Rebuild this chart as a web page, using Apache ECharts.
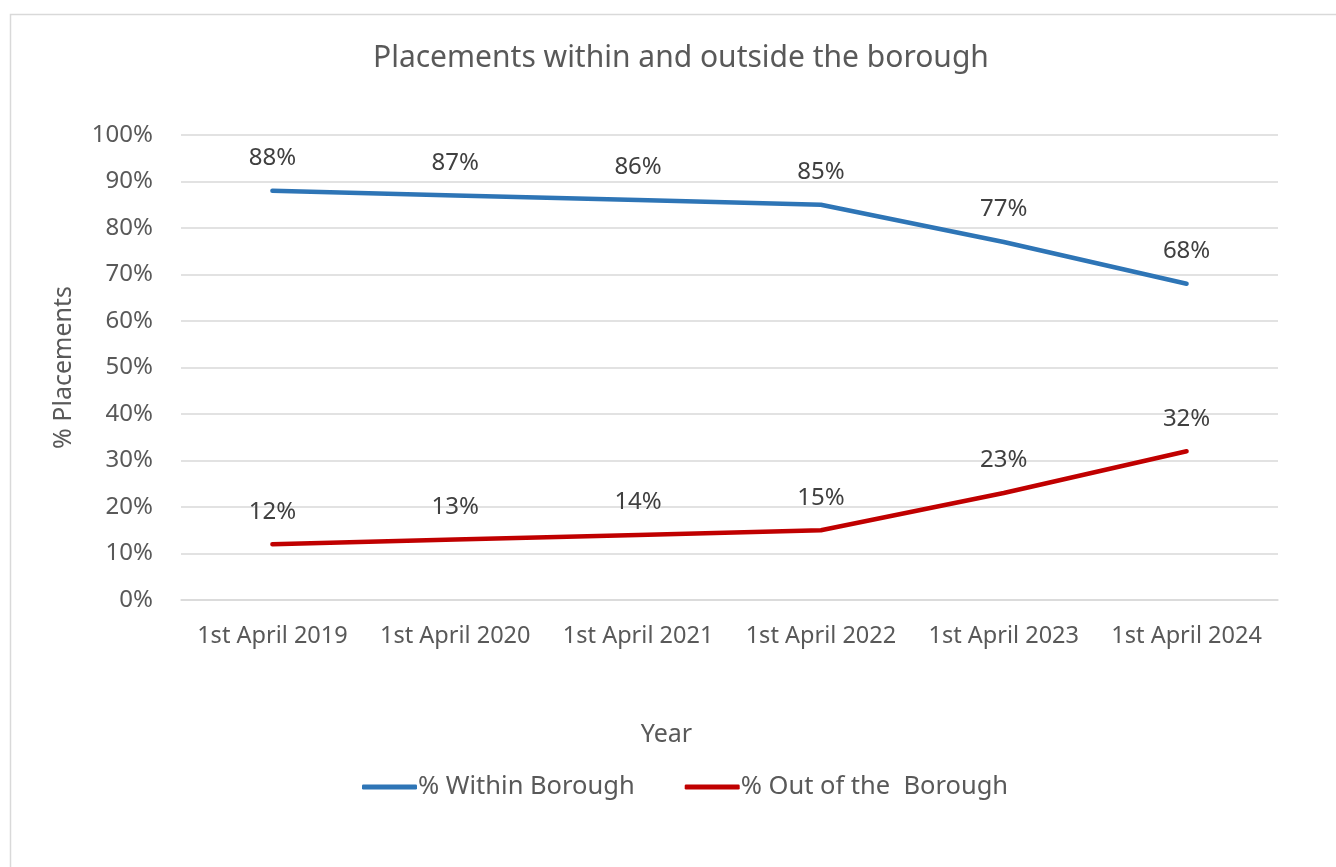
<!DOCTYPE html>
<html><head><meta charset="utf-8">
<script src="https://cdn.jsdelivr.net/npm/echarts@6/dist/echarts.min.js"></script>
<style>html,body{margin:0;padding:0;background:#fff}#c{width:1336px;height:867px}</style>
</head><body><div id="c"></div>
<script>
const categories = ['1st April 2019','1st April 2020','1st April 2021','1st April 2022','1st April 2023','1st April 2024'];
const withinBorough = [88, 87, 86, 85, 77, 68];
const outOfBorough = [12, 13, 14, 15, 23, 32];
const seriesNames = ['% Within Borough', '% Out of the  Borough'];
const F = 'Noto Sans';
const chart = echarts.init(document.getElementById('c'));
const lbl = {show: true, position: 'top', distance: 20, formatter: '{c}%', fontFamily: F, fontSize: 24, color: '#404040'};
chart.setOption({
  animation: false,
  textStyle: {fontFamily: F},
  graphic: [{type: 'rect', shape: {x: 10.5, y: 14.5, width: 1340, height: 870}, style: {fill: 'none', stroke: '#d9d9d9', lineWidth: 1.5}, silent: true}],
  title: {text: 'Placements within and outside the borough', left: 368, top: 38, textStyle: {fontFamily: F, fontSize: 30, fontWeight: 'normal', color: '#595959'}},
  grid: {left: 181, right: 58, top: 135, bottom: 267, containLabel: false},
  legend: {bottom: 62, left: 357, itemWidth: 55, itemHeight: 5, itemGap: 50, icon: 'roundRect',
    textStyle: {fontFamily: F, fontSize: 25.5, color: '#595959', padding: [0,0,0,-4]},
    data: seriesNames},
  xAxis: {type: 'category', data: categories, boundaryGap: true,
    name: 'Year', nameLocation: 'middle', nameGap: 122, nameTextStyle: {fontFamily: F, fontSize: 25, color: '#595959', padding: [0, 126, 0, 0]},
    axisLine: {lineStyle: {color: '#d9d9d9', width: 1.5}}, axisTick: {show: false},
    axisLabel: {interval: 0, hideOverlap: false, fontFamily: F, fontSize: 23.5, color: '#595959', margin: 24}},
  yAxis: {type: 'value', min: 0, max: 100, interval: 10,
    name: '% Placements', nameLocation: 'middle', nameGap: 105, nameRotate: 90, nameTextStyle: {fontFamily: F, fontSize: 25, color: '#595959'},
    axisLine: {show: false}, axisTick: {show: false},
    axisLabel: {fontFamily: F, fontSize: 24, color: '#595959', margin: 28, formatter: '{value}%'},
    splitLine: {lineStyle: {color: '#d9d9d9', width: 1.5}}},
  series: [
    {name: seriesNames[0], type: 'line', data: withinBorough, symbol: 'circle', symbolSize: 1, showSymbol: true, color: '#2E75B6', itemStyle: {color: '#2E75B6'}, lineStyle: {width: 4.5, color: '#2E75B6', cap: 'round'},
      label: lbl},
    {name: seriesNames[1], type: 'line', data: outOfBorough, symbol: 'circle', symbolSize: 1, showSymbol: true, color: '#C00000', itemStyle: {color: '#C00000'}, lineStyle: {width: 4.5, color: '#C00000', cap: 'round'},
      label: lbl}
  ]
});
</script></body></html>
